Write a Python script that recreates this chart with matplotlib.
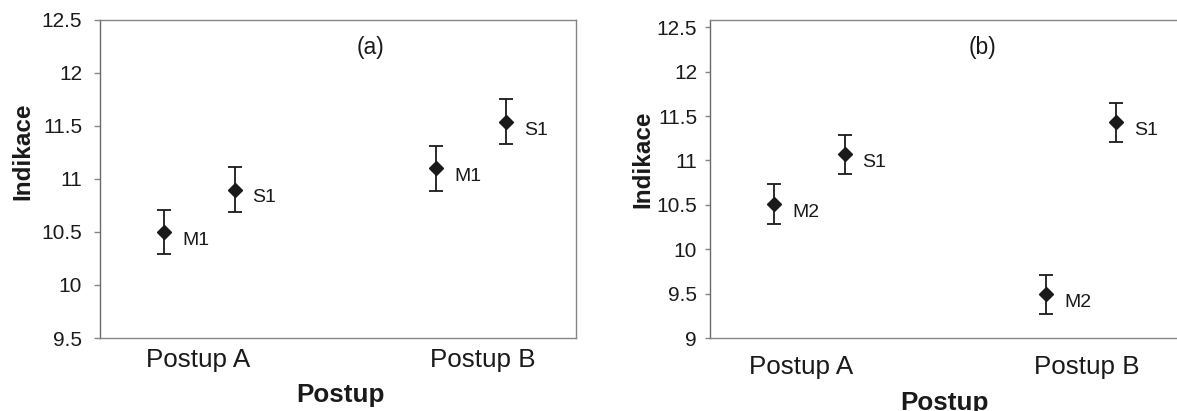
import matplotlib
matplotlib.use("Agg")
import matplotlib.pyplot as plt
from matplotlib.ticker import FuncFormatter, MultipleLocator

plt.rcParams['font.family'] = ['Liberation Sans', 'DejaVu Sans']

# ---- data ----
categories = ["Postup A", "Postup B"]

a_series_names = ["M1", "S1"]
a_means = [[10.50, 11.10], [10.90, 11.54]]
a_errs = [[0.21, 0.21], [0.21, 0.21]]

b_series_names = ["M2", "S1"]
b_means = [[10.505, 9.49], [11.07, 11.43]]
b_errs = [[0.225, 0.22], [0.22, 0.22]]

W, H = 1177, 411
fig = plt.figure(figsize=(W / 100, H / 100), dpi=100)

def px_box(left, top, right, bottom):
    return [left / W, 1 - bottom / H, (right - left) / W, (bottom - top) / H]

ink = "#1a1a1a"
spine_col = "#858585"
offsets = [-0.129, 0.129]

def panel(rect, names, means, errs, ylim, ytick_len, ytick_pad, label_shift, xlab_pad, tag):
    ax = fig.add_axes(rect)
    cat_x = list(range(1, len(categories) + 1))
    for s, name in enumerate(names):
        xs = [c + offsets[s] for c in cat_x]
        ax.errorbar(xs, means[s], yerr=errs[s], fmt='D', color=ink, ms=6.8,
                    ecolor=ink, elinewidth=1.3, capsize=5, capthick=1.3, zorder=3)
        for x, y in zip(xs, means[s]):
            ax.annotate(name, (x, y), xytext=(13, -6), textcoords='offset points',
                        ha='left', va='center', fontsize=14, color=ink)
    ax.set_xlim(0.6335, 2.3867)
    ax.set_ylim(*ylim)
    ax.yaxis.set_major_locator(MultipleLocator(0.5))
    ax.yaxis.set_major_formatter(FuncFormatter(lambda v, p: f"{v:g}"))
    ax.tick_params(axis='y', direction='out', length=ytick_len, width=1,
                   color=spine_col, labelsize=15, labelcolor=ink, pad=ytick_pad)
    ax.set_xticks([c + sh for c, sh in zip(cat_x, label_shift)])
    ax.set_xticklabels(categories)
    ax.tick_params(axis='x', length=0, labelsize=18.7, labelcolor=ink, pad=xlab_pad)
    for sp in ax.spines.values():
        sp.set_color(spine_col)
        sp.set_linewidth(1.0)
    ax.spines['left'].set_color("#6a6a6a")
    ax.text(tag[1], tag[2], tag[0], transform=ax.transAxes, ha='center', va='center',
            fontsize=16.5, color=ink)
    return ax

ax_a = panel(px_box(100, 20, 576, 338), a_series_names, a_means, a_errs,
             (9.5, 12.5), 4.3, 8.6, [-0.006, 0.044], 7.5, ("(a)", 0.569, 0.912))
ax_b = panel(px_box(710, 20, 1186, 338), b_series_names, b_means, b_errs,
             (9.0, 12.582), 3.3, 6.0, [-0.031, 0.022], 12.0, ("(b)", 0.5735, 0.915))

# axis titles
fig.text(23 / W, 1 - 151.5 / H, "Indikace", rotation=90, ha='center', va='center',
         fontsize=17.5, fontweight='bold', color=ink)
fig.text(643 / W, 1 - 159.5 / H, "Indikace", rotation=90, ha='center', va='center',
         fontsize=17.5, fontweight='bold', color=ink)
fig.text(341 / W, 1 - 402 / H, "Postup", ha='center', va='baseline',
         fontsize=18.7, fontweight='bold', color=ink)
fig.text(944 / W, 1 - 410 / H, "Postup", ha='center', va='baseline',
         fontsize=18.7, fontweight='bold', color=ink)

fig.savefig("out.png", dpi=100)
